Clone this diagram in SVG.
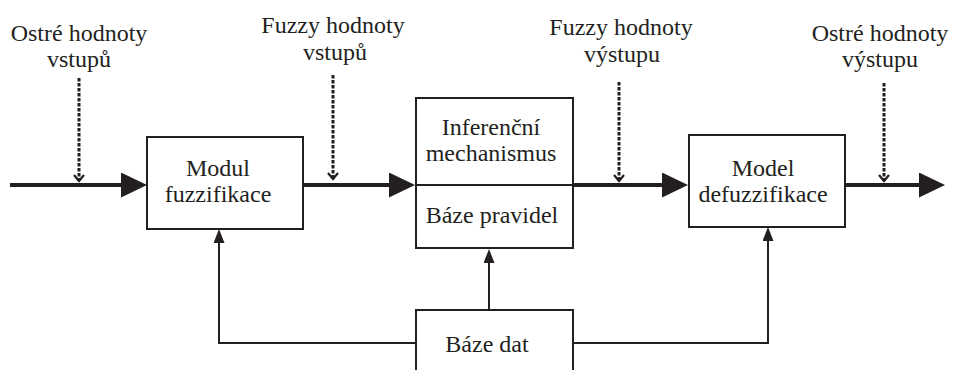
<svg xmlns="http://www.w3.org/2000/svg" width="954" height="370" viewBox="0 0 954 370">
  <style>
    .box { fill: #ffffff; stroke: #231f20; stroke-width: 2; }
    .lbl { font-family: "Liberation Serif", "Times New Roman", serif; font-size: 24px; fill: #231f20; text-anchor: middle; }
    .flow { fill: none; stroke: #231f20; stroke-width: 4; marker-end: url(#bigHead); }
    .feed { fill: none; stroke: #231f20; stroke-width: 2; marker-end: url(#smallHead); }
    .probe { fill: none; stroke: #231f20; stroke-width: 3; stroke-dasharray: 3.5 1.5; marker-end: url(#chevron); }
  </style>
  <defs>
    <marker id="bigHead" markerUnits="userSpaceOnUse" markerWidth="26" markerHeight="25" refX="6" refY="12.5" orient="auto">
      <path d="M0,0 L26,12.5 L0,25 Z" fill="#231f20"/>
    </marker>
    <marker id="smallHead" markerUnits="userSpaceOnUse" markerWidth="14" markerHeight="11" refX="4" refY="5.5" orient="auto">
      <path d="M0,0 L14,5.5 L0,11 Z" fill="#231f20"/>
    </marker>
    <marker id="chevron" markerUnits="userSpaceOnUse" markerWidth="10" markerHeight="14" refX="7" refY="6" orient="auto">
      <path d="M1,1 L7,6 L1,11" fill="none" stroke="#231f20" stroke-width="2.2"/>
    </marker>
  </defs>

  <!-- signal labels along the top -->
  <g id="label-crisp-in">
    <text class="lbl" x="79" y="41">Ostré hodnoty</text>
    <text class="lbl" x="79" y="67">vstupů</text>
  </g>
  <g id="label-fuzzy-in">
    <text class="lbl" x="333" y="33">Fuzzy hodnoty</text>
    <text class="lbl" x="335" y="60">vstupů</text>
  </g>
  <g id="label-fuzzy-out">
    <text class="lbl" x="621" y="35">Fuzzy hodnoty</text>
    <text class="lbl" x="622" y="62">výstupu</text>
  </g>
  <g id="label-crisp-out">
    <text class="lbl" x="880" y="41">Ostré hodnoty</text>
    <text class="lbl" x="880" y="67">výstupu</text>
  </g>

  <!-- processing blocks -->
  <g id="fuzzifier">
    <rect class="box" x="147" y="137" width="156" height="92"/>
    <text class="lbl" x="218" y="176">Modul</text>
    <text class="lbl" x="218" y="202">fuzzifikace</text>
  </g>
  <g id="inference">
    <rect class="box" x="416" y="98" width="157" height="150"/>
    <line x1="416" y1="185" x2="573" y2="185" stroke="#231f20" stroke-width="2"/>
    <text class="lbl" x="491" y="135">Inferenční</text>
    <text class="lbl" x="491" y="161">mechanismus</text>
    <text class="lbl" x="492" y="223">Báze pravidel</text>
  </g>
  <g id="defuzzifier">
    <rect class="box" x="689" y="135" width="156" height="92"/>
    <text class="lbl" x="763" y="176">Model</text>
    <text class="lbl" x="763" y="202">defuzzifikace</text>
  </g>
  <g id="database">
    <rect class="box" x="416" y="310" width="157" height="80"/>
    <text class="lbl" x="487" y="352">Báze dat</text>
  </g>

  <!-- connectors -->
  <g id="connectors">
    <path class="flow" d="M10,185 H127"/>
    <path class="flow" d="M303,185 H395"/>
    <path class="flow" d="M573,185 H668"/>
    <path class="flow" d="M845,185 H925"/>

    <path class="feed" d="M416,343 H219 V239"/>
    <path class="feed" d="M489,310 V259"/>
    <path class="feed" d="M573,343 H768 V237"/>

    <path class="probe" d="M79,78 V181"/>
    <path class="probe" d="M333,75 V179"/>
    <path class="probe" d="M619,82 V181"/>
    <path class="probe" d="M884,83 V181"/>
  </g>
</svg>
